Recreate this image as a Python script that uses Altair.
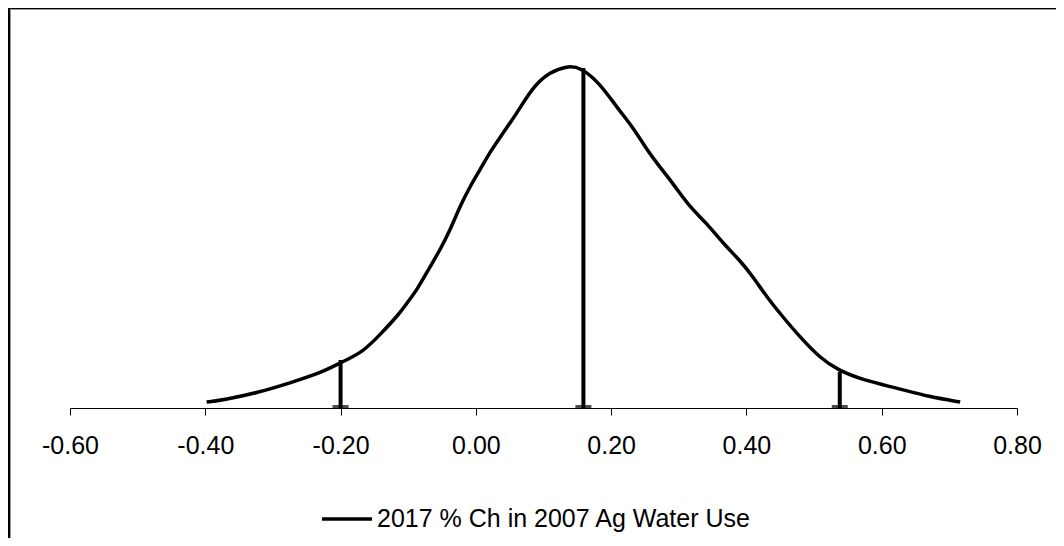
import altair as alt
import pandas as pd

# Curve (x value, relative density height)
x_values = [-0.398, -0.374, -0.324, -0.275, -0.226, -0.198, -0.167, -0.142, -0.112, -0.102,
            -0.087, -0.068, -0.053, -0.038, -0.024, -0.009, 0.006, 0.021, 0.035, 0.061,
            0.084, 0.109, 0.135, 0.154, 0.183, 0.208, 0.232, 0.253, 0.272, 0.291,
            0.316, 0.341, 0.365, 0.390, 0.410, 0.430, 0.454, 0.479, 0.509, 0.535,
            0.572, 0.622, 0.671, 0.716]
density = [0.06, 0.08, 0.15, 0.25, 0.36, 0.46, 0.56, 0.73, 0.95, 1.05,
           1.18, 1.41, 1.58, 1.78, 2.01, 2.21, 2.38, 2.56, 2.70, 2.95,
           3.21, 3.36, 3.42, 3.41, 3.25, 3.01, 2.81, 2.58, 2.41, 2.25,
           2.01, 1.85, 1.65, 1.48, 1.31, 1.11, 0.91, 0.71, 0.50, 0.38,
           0.28, 0.20, 0.11, 0.06]

# Marker lines (lower bound, mean, upper bound)
marker_x = [-0.20, 0.159, 0.538]
marker_top = [0.48, 3.40, 0.36]

tick_values = [-0.6, -0.4, -0.2, 0.0, 0.2, 0.4, 0.6, 0.8]
series_name = "2017 % Ch in 2007 Ag Water Use"

FONT = "Liberation Sans"

curve_df = pd.DataFrame({"x": x_values, "d": density, "series": series_name})
marker_df = pd.DataFrame({"x": marker_x, "top": marker_top, "base": [0.0] * len(marker_x)})
one = pd.DataFrame({"a": [0]})

xscale = alt.Scale(domain=[-0.6, 0.8], nice=False, zero=False)
yscale = alt.Scale(domain=[0, 3.68], nice=False)

xaxis = alt.Axis(
    values=tick_values,
    labelExpr="(datum.value < 0 ? '-' : '') + format(abs(datum.value), '.2f')",
    title=None, grid=False,
    domainColor="black", domainWidth=1,
    tickColor="black", tickSize=7, tickWidth=1,
    labelFontSize=25, labelFont=FONT, labelColor="black",
    labelPadding=18, labelFlush=False, labelOverlap=False,
)

curve = alt.Chart(curve_df).mark_line(strokeWidth=3.5, interpolate="basis").encode(
    x=alt.X("x:Q", scale=xscale, axis=xaxis),
    y=alt.Y("d:Q", scale=yscale, axis=None),
    color=alt.Color(
        "series:N",
        scale=alt.Scale(range=["black"]),
        legend=alt.Legend(
            orient="none", legendX=250, legendY=452, title=None,
            symbolType="stroke", symbolSize=2500, symbolStrokeWidth=3.5,
            labelFontSize=25, labelFont=FONT, labelColor="black",
            labelOffset=3, labelLimit=0, padding=0, rowPadding=0,
        ),
    ),
)

markers = alt.Chart(marker_df).mark_rule(strokeWidth=4, color="black").encode(
    x=alt.X("x:Q", scale=xscale),
    y=alt.Y("base:Q", scale=yscale),
    y2="top:Q",
)

feet = alt.Chart(marker_df).mark_tick(
    orient="horizontal", size=16, thickness=3, color="black", yOffset=-1.5
).encode(
    x=alt.X("x:Q", scale=xscale),
    y=alt.Y("base:Q", scale=yscale),
)

frame_left = alt.Chart(one).mark_rule(strokeWidth=2, color="black").encode(
    x=alt.value(-61), y=alt.value(-33), y2=alt.value(600)
)
frame_top = alt.Chart(one).mark_rule(strokeWidth=2, color="black").encode(
    x=alt.value(-62), x2=alt.value(1100), y=alt.value(-32)
)
frame_left_g = alt.Chart(one).mark_rule(strokeWidth=1, color="#999999").encode(
    x=alt.value(-59.5), y=alt.value(-31), y2=alt.value(600)
)
frame_top_g = alt.Chart(one).mark_rule(strokeWidth=1, color="#999999").encode(
    x=alt.value(-60), x2=alt.value(1100), y=alt.value(-30.5)
)

chart = alt.layer(
    frame_left_g, frame_top_g, frame_left, frame_top, curve, markers, feet
).properties(
    width=947, height=368,
    padding={"left": 62, "top": 32, "right": 39, "bottom": 130},
    autosize=alt.AutoSizeParams(type="none"),
    background="white",
).configure_view(stroke=None)

chart.save("out.html", embed_options={"renderer": "svg", "actions": False})
